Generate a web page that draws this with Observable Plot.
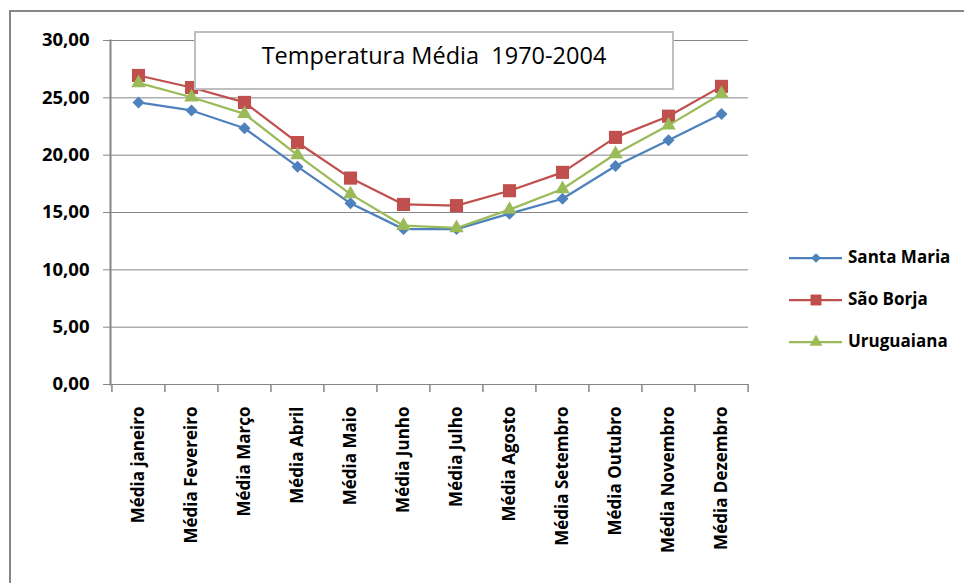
<!DOCTYPE html>
<html>
<head>
<meta charset="utf-8">
<script src="https://cdn.jsdelivr.net/npm/d3@7"></script>
<script src="https://cdn.jsdelivr.net/npm/@observablehq/plot@0.6"></script>
<style>
  html, body { margin: 0; padding: 0; background: #fff; }
  #chart svg { display: block; }
</style>
</head>
<body>
<div id="chart"></div>
<script>
const months = ["Média janeiro", "Média Fevereiro", "Média Março", "Média Abril", "Média Maio", "Média Junho",
  "Média Julho", "Média Agosto", "Média Setembro", "Média Outubro", "Média Novembro", "Média Dezembro"];
const santaMaria = [24.6, 23.9, 22.35, 19.0, 15.8, 13.55, 13.55, 14.9, 16.2, 19.05, 21.3, 23.6];
const saoBorja   = [26.95, 25.9, 24.6, 21.1, 18.0, 15.7, 15.6, 16.9, 18.5, 21.55, 23.4, 26.0];
const uruguaiana = [26.3, 25.05, 23.6, 20.0, 16.6, 13.85, 13.65, 15.25, 17.05, 20.1, 22.6, 25.35];
const seriesNames = ["Santa Maria", "São Borja", "Uruguaiana"];
const seriesColors = ["#4F81BD", "#C0504D", "#9BBB59"];
const seriesSymbols = ["diamond2", "square", "triangle"];
const seriesR = [5.4, 7.4, 5.4];
const yTicks = [0, 5, 10, 15, 20, 25, 30];
const titleText = "Temperatura Média  1970-2004";

const seriesValues = [santaMaria, saoBorja, uruguaiana];
const data = seriesNames.flatMap((s, i) => months.map((m, j) => ({series: s, month: m, value: seriesValues[i][j]})));

const W = 964, H = 583;
const mL = 110, mR = 216, mT = 40, mB = 199;
const step = (W - mL - mR) / months.length;
const font = "'Open Sans', Lato, sans-serif";

const marks = [
  Plot.ruleY(yTicks, {stroke: "#868686", strokeWidth: 1}),
  Plot.frame({anchor: "left", stroke: "#868686", strokeWidth: 2}),
  Plot.axisY({ticks: yTicks, tickSize: 7, tickPadding: 14, stroke: "#868686",
    tickFormat: d => d.toFixed(2).replace(".", ","), fontSize: 18.5, fontWeight: "bold", label: null}),
  Plot.ruleX(months, {x: d => d, dx: -step / 2, y1: 0, y2: -0.7, stroke: "#868686", strokeWidth: 1.5}),
  Plot.ruleX([months[months.length - 1]], {x: d => d, dx: step / 2, y1: 0, y2: -0.7, stroke: "#868686", strokeWidth: 1.5}),
  Plot.axisX({tickRotate: -90, tickSize: 0, tickPadding: 22, fontSize: 17, fontWeight: "bold", label: null})
];
seriesNames.forEach((s, i) => {
  const rows = data.filter(d => d.series === s);
  marks.push(Plot.line(rows, {x: "month", y: "value", stroke: seriesColors[i], strokeWidth: 2.25}));
  marks.push(Plot.dot(rows, {x: "month", y: "value", symbol: seriesSymbols[i], r: seriesR[i], fill: seriesColors[i], stroke: "none"}));
});

const svgNode = Plot.plot({
  width: W, height: H,
  marginLeft: mL, marginRight: mR, marginTop: mT, marginBottom: mB,
  style: {fontFamily: font, color: "#000", background: "#fff"},
  x: {type: "point", domain: months, padding: 0.5, axis: null},
  y: {domain: [0, 30], axis: null},
  marks
});
document.getElementById("chart").appendChild(svgNode);

const svg = d3.select(svgNode);
// outer chart border
svg.append("rect").attr("x", 10).attr("y", 11).attr("width", W + 10).attr("height", H + 10)
  .attr("fill", "none").attr("stroke", "#868686").attr("stroke-width", 2);
// title box
svg.append("rect").attr("x", 195).attr("y", 32).attr("width", 478).attr("height", 57)
  .attr("fill", "#fff").attr("stroke", "#BFBFBF").attr("stroke-width", 2);
svg.append("text").attr("x", 434).attr("y", 58).attr("text-anchor", "middle").attr("dominant-baseline", "middle")
  .attr("font-family", font).attr("font-size", 23.5).attr("fill", "#000").text(titleText);
// legend
const legendSymbols = [d3.symbolDiamond2, d3.symbolSquare, d3.symbolTriangle];
const legendSizes = [60, 120, 70];
seriesNames.forEach((s, i) => {
  const y = 258 + i * 42;
  const g = svg.append("g");
  g.append("line").attr("x1", 789).attr("x2", 842).attr("y1", y).attr("y2", y)
    .attr("stroke", seriesColors[i]).attr("stroke-width", 2.25);
  g.append("path").attr("transform", `translate(816,${y})`)
    .attr("d", d3.symbol(legendSymbols[i], legendSizes[i])()).attr("fill", seriesColors[i]);
  g.append("text").attr("x", 848).attr("y", y).attr("dominant-baseline", "middle").attr("text-anchor", "start")
    .attr("font-family", font).attr("font-size", 17).attr("font-weight", "bold").attr("fill", "#000").text(s);
});
</script>
</body>
</html>
